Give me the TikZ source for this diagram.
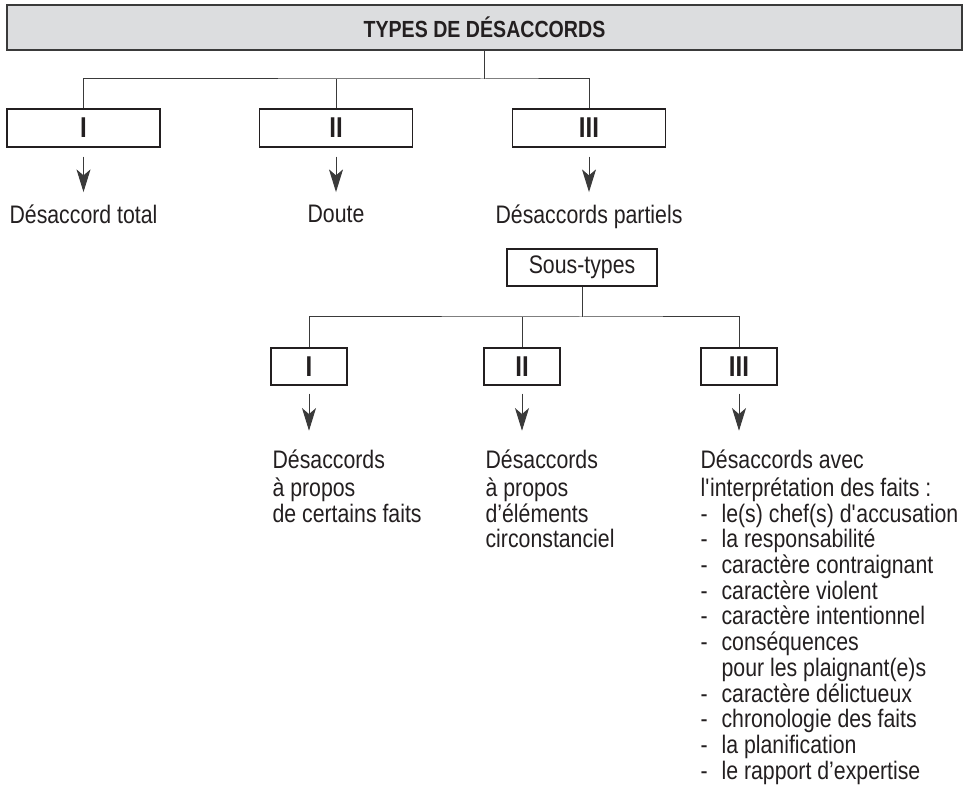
\documentclass[tikz,border=0pt]{standalone}
\usepackage{fontspec}
\setmainfont{Liberation Sans}[FakeStretch=0.84]
\usepackage{xcolor}
\usepackage{tikz}
\usetikzlibrary{arrows.meta, positioning}
\definecolor{inkDark}{HTML}{231F20}
\definecolor{titleGray}{HTML}{DCDDDF}
\definecolor{ruleGray}{HTML}{3A3A3A}
\newcommand{\txtsize}{\fontsize{19}{19.3}\selectfont}
\newcommand{\tiret}{\makebox[15.75pt][l]{-}}

\begin{document}
\begin{tikzpicture}[
    x=0.75pt, y=-0.75pt,
    every node/.style={text=inkDark, font=\txtsize},
    titlebox/.style={draw=ruleGray, line width=1.4pt, fill=titleGray, minimum width=716.25pt, minimum height=33.75pt, font=\fontsize{17.5}{19.3}\selectfont\bfseries},
    typebox/.style={draw=inkDark, line width=1pt, minimum width=114.75pt, minimum height=28.5pt, inner sep=0pt, font=\fontsize{21.5}{19.3}\selectfont\bfseries},
    subbox/.style={draw=inkDark, line width=1pt, minimum width=57pt, minimum height=27.75pt, inner sep=0pt, font=\fontsize{21.5}{19.3}\selectfont\bfseries},
    lbl/.style={inner sep=0pt},
    txt/.style={inner sep=0pt, align=left},
    link/.style={draw=ruleGray, line width=0.75pt},
    arr/.style={link, -{Stealth[length=17pt, width=10.5pt, inset=4.5pt]}},
]
    \useasboundingbox (0,0) rectangle (967,787);

    \node[titlebox] (title) at (484.5,27.5) {TYPES DE DÉSACCORDS};

    \node[typebox] (t1) at (83.5,128) {I};
    \node[typebox] (t2) at (336,128) {II};
    \node[typebox] (t3) at (589,128) {III};

    \coordinate (hub) at (484.5,79);
    \draw[link] (title.south) -- (hub);
    \draw[link] (t1.north) |- (hub) -| (t3.north);
    \draw[link] (t2.north) -- (t2.north |- hub);

    \node[lbl, below=42.5pt of t1] (l1) {\strut Désaccord total};
    \node[lbl, below=42.5pt of t2] (l2) {\strut Doute};
    \node[lbl, below=42.5pt of t3] (l3) {\strut Désaccords partiels};
    \draw[arr, shorten <=6.75pt, shorten >=9.2pt] (t1.south) -- (t1.south |- l1.north);
    \draw[arr, shorten <=6.75pt, shorten >=9.2pt] (t2.south) -- (t2.south |- l2.north);
    \draw[arr, shorten <=6.75pt, shorten >=9.2pt] (t3.south) -- (t3.south |- l3.north);

    \node[subbox, minimum width=112.5pt, font=\txtsize] (sous) at (582,267.5) {Sous-types};

    \node[subbox] (s1) at (309,366.5) {I};
    \node[subbox] (s2) at (522,366.5) {II};
    \node[subbox] (s3) at (739,366.5) {III};

    \coordinate (subhub) at (582,317);
    \draw[link] (sous.south) -- (subhub);
    \draw[link] (s1.north) |- (subhub) -| (s3.north);
    \draw[link] (s2.north) -- (s2.north |- subhub);

    \node[txt, below right=48pt and 1.5pt of s1.south west] (d1) {\strut Désaccords\\à propos\\de certains faits};
    \node[txt, below right=48pt and 1.5pt of s2.south west] (d2) {\strut Désaccords\\à propos\\d’éléments\\circonstanciel};
    \node[txt, below right=48pt and 0pt of s3.south west] (d3) {\strut Désaccords avec\\
        l\textquotesingle interprétation des faits :\\
        \tiret le(s) chef(s) d\textquotesingle accusation\\
        \tiret la responsabilité\\
        \tiret caractère contraignant\\
        \tiret caractère violent\\
        \tiret caractère intentionnel\\
        \tiret conséquences\\
        \hspace*{15.75pt}pour les plaignant(e)s\\
        \tiret caractère délictueux\\
        \tiret chronologie des faits\\
        \tiret la planification\\
        \tiret le rapport d’expertise};
    \draw[arr, shorten <=6pt, shorten >=14.2pt] (s1.south) -- (s1.south |- d1.north);
    \draw[arr, shorten <=6pt, shorten >=14.2pt] (s2.south) -- (s2.south |- d2.north);
    \draw[arr, shorten <=6pt, shorten >=14.2pt] (s3.south) -- (s3.south |- d3.north);
\end{tikzpicture}
\end{document}
